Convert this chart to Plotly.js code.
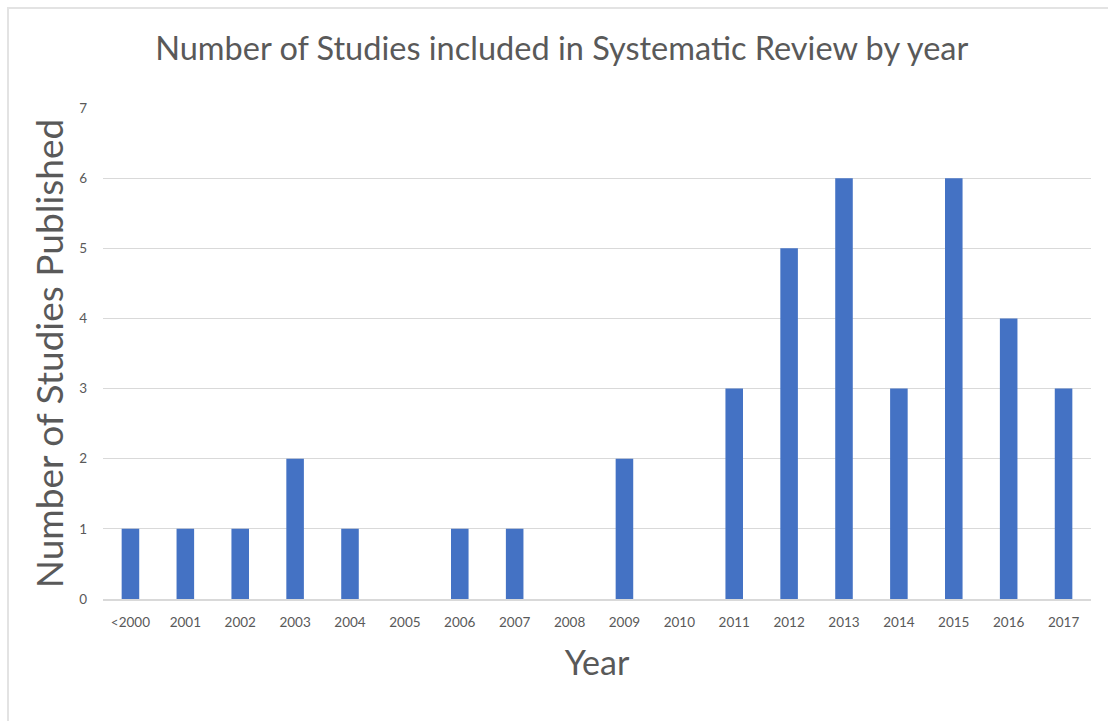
<!DOCTYPE html>
<html>
<head>
<meta charset="utf-8">
<script src="https://cdn.plot.ly/plotly-3.0.1.min.js"></script>
<style>
html,body{margin:0;padding:0;background:#fff;}
#wrap{position:relative;width:1108px;height:721px;overflow:hidden;}
#frame{position:absolute;left:7px;top:7px;right:-5px;bottom:-5px;border-left:2px solid #e3e3e3;border-top:2px solid #e3e3e3;pointer-events:none;}
#chart{position:absolute;left:0;top:0;width:1108px;height:721px;}
</style>
</head>
<body>
<div id="wrap"><div id="chart"></div><div id="frame"></div></div>
<script>
const years = ["<2000","2001","2002","2003","2004","2005","2006","2007","2008","2009","2010","2011","2012","2013","2014","2015","2016","2017"];
const studies = [1,1,1,2,1,0,1,1,0,2,0,3,5,6,3,6,4,3];
const yTicks = [0,1,2,3,4,5,6,7];

const font = "Lato, 'Open Sans', 'Liberation Sans', sans-serif";
Plotly.newPlot('chart', [{
  type: 'bar',
  x: years,
  y: studies,
  marker: {color: '#4472C4'},
  hoverinfo: 'x+y'
}], {
  width: 1108, height: 721,
  margin: {l: 102.5, r: 16.5, t: 108, b: 122},
  paper_bgcolor: 'rgba(0,0,0,0)',
  plot_bgcolor: '#fff',
  bargap: 0.68,
  showlegend: false,
  title: {text: 'Number of Studies included in Systematic Review by year', x: 0.507, xanchor: 'center', y: 0.933, yanchor: 'middle',
          font: {family: font, size: 32.5, color: '#595959'}},
  xaxis: {type: 'category', tickfont: {family: font, size: 13.5, color: '#595959'}, ticks: '', showgrid: false,
          ticklabelstandoff: 10,
          showline: true, linecolor: '#d9d9d9', linewidth: 1.5,
          title: {text: 'Year', font: {family: font, size: 34, color: '#595959'}, standoff: 22}},
  yaxis: {range: [0, 7], tickvals: yTicks, ticktext: yTicks.map(String), tickfont: {family: font, size: 13.5, color: '#595959'},
          showgrid: true, gridcolor: '#d9d9d9', gridwidth: 1.2, zeroline: false, ticks: '', ticklen: 0,
          ticklabelstandoff: 15,
          title: {text: 'Number of Studies Published', font: {family: font, size: 37, color: '#595959'}, standoff: 4}}
}, {displayModeBar: false, staticPlot: true});
</script>
</body>
</html>
